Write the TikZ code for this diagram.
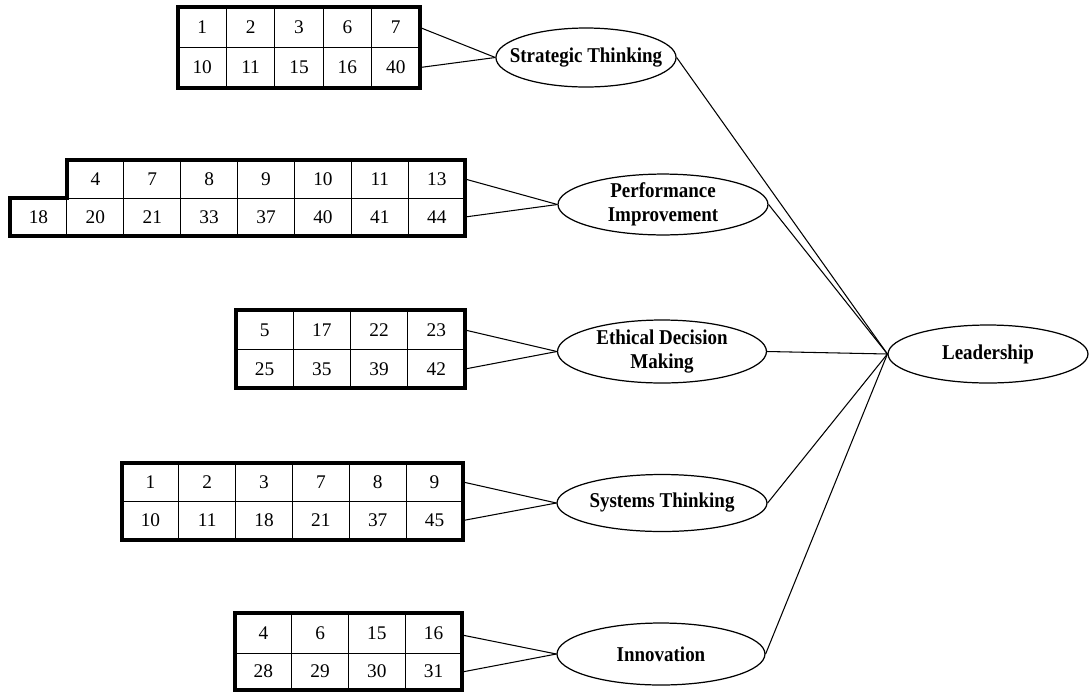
\documentclass[tikz,border=0pt]{standalone}
\usepackage{fontspec}
\setmainfont{Liberation Serif}
\newfontfamily\lblfont[FakeStretch=0.9]{Liberation Serif}
\usetikzlibrary{shapes.geometric}

\begin{document}
\begin{tikzpicture}[x=0.02cm, y=-0.02cm, font=\fontsize{11}{12}\selectfont,
    num/.style={inner sep=0pt},
    grid/.style={line width=0.55pt},
    frame/.style={line width=1.9pt},
    link/.style={line width=0.6pt},
    factor/.style={ellipse, draw, line width=0.7pt, inner sep=0pt, align=center,
      font=\lblfont\bfseries\fontsize{12}{13.5}\selectfont}]
    \useasboundingbox (0,0) rectangle (1089,694);
    % Strategic Thinking items
    \def\cw{48.4}
    \foreach \v [count=\i from 0] in {1,2,3,6,7} {
      \draw[grid] (178+\cw*\i,7) rectangle ++(\cw,40.5);
      \node[num] (st-a\i) at (178+\cw*\i+\cw/2,27.5) {\v};
    }
    \foreach \v [count=\i from 0] in {10,11,15,16,40} {
      \draw[grid] (178+\cw*\i,47.5) rectangle ++(\cw,40.5);
      \node[num] (st-b\i) at (178+\cw*\i+\cw/2,67.5) {\v};
    }
    \draw[frame] (178,7) rectangle (420,88);
    \coordinate (st-r1) at (420,27.5);
    \coordinate (st-r2) at (420,67.5);
    % Performance Improvement items
    \def\cw{56.9}
    \foreach \v [count=\i from 1] in {4,7,8,9,10,11,13} {
      \draw[grid] (10+\cw*\i,160) rectangle ++(\cw,38);
      \node[num] (pf-a\i) at (10+\cw*\i+\cw/2,179) {\v};
    }
    \foreach \v [count=\i from 0] in {18,20,21,33,37,40,41,44} {
      \draw[grid] (10+\cw*\i,198) rectangle ++(\cw,38);
      \node[num] (pf-b\i) at (10+\cw*\i+\cw/2,217) {\v};
    }
    \draw[frame] (67,160) -- (465,160) -- (465,236) -- (10,236) -- (10,198) -- (67,198) -- cycle;
    \coordinate (pf-r1) at (465,179);
    \coordinate (pf-r2) at (465,217);
    % Ethical Decision Making items
    \def\cw{57.25}
    \foreach \v [count=\i from 0] in {5,17,22,23} {
      \draw[grid] (236+\cw*\i,310) rectangle ++(\cw,39.5);
      \node[num] (ed-a\i) at (236+\cw*\i+\cw/2,330) {\v};
    }
    \foreach \v [count=\i from 0] in {25,35,39,42} {
      \draw[grid] (236+\cw*\i,349.5) rectangle ++(\cw,38.5);
      \node[num] (ed-b\i) at (236+\cw*\i+\cw/2,369) {\v};
    }
    \draw[frame] (236,310) rectangle (465,388);
    \coordinate (ed-r1) at (465,330);
    \coordinate (ed-r2) at (465,369);
    % Systems Thinking items
    \def\cw{56.83}
    \foreach \v [count=\i from 0] in {1,2,3,7,8,9} {
      \draw[grid] (122+\cw*\i,463) rectangle ++(\cw,38);
      \node[num] (sy-a\i) at (122+\cw*\i+\cw/2,482) {\v};
    }
    \foreach \v [count=\i from 0] in {10,11,18,21,37,45} {
      \draw[grid] (122+\cw*\i,501) rectangle ++(\cw,39);
      \node[num] (sy-b\i) at (122+\cw*\i+\cw/2,520.5) {\v};
    }
    \draw[frame] (122,463) rectangle (463,540);
    \coordinate (sy-r1) at (463,482);
    \coordinate (sy-r2) at (463,520.5);
    % Innovation items
    \def\cw{56.75}
    \foreach \v [count=\i from 0] in {4,6,15,16} {
      \draw[grid] (235+\cw*\i,613) rectangle ++(\cw,40);
      \node[num] (inn-a\i) at (235+\cw*\i+\cw/2,633) {\v};
    }
    \foreach \v [count=\i from 0] in {28,29,30,31} {
      \draw[grid] (235+\cw*\i,653) rectangle ++(\cw,37);
      \node[num] (inn-b\i) at (235+\cw*\i+\cw/2,671.5) {\v};
    }
    \draw[frame] (235,613) rectangle (462,690);
    \coordinate (inn-r1) at (462,635);
    \coordinate (inn-r2) at (462,672);
    % factors
    \node[factor, inner xsep=-0.25cm, minimum width=3.58cm, minimum height=1.18cm] (st) at (586,57.5) {Strategic Thinking};
    \node[factor, minimum width=4.2cm, minimum height=1.12cm] (pf) at (663,204.5) {Performance\\Improvement};
    \node[factor, minimum width=4.18cm, minimum height=1.26cm] (ed) at (662,351.5) {Ethical Decision\\Making};
    \node[factor, minimum width=4.2cm, minimum height=1.14cm] (sy) at (662,503) {Systems Thinking};
    \node[factor, minimum width=4.16cm, minimum height=1.24cm] (inn) at (661,654) {Innovation};
    \node[factor, minimum width=4.0cm, minimum height=1.16cm] (ld) at (988,354) {Leadership};
    % links
    \foreach \f in {st,pf,ed,sy,inn} {
      \draw[link] (\f-r1) -- (\f.west);
      \draw[link] (\f-r2) -- (\f.west);
      \draw[link] (\f.east) -- (ld.west);
    }
\end{tikzpicture}
\end{document}
